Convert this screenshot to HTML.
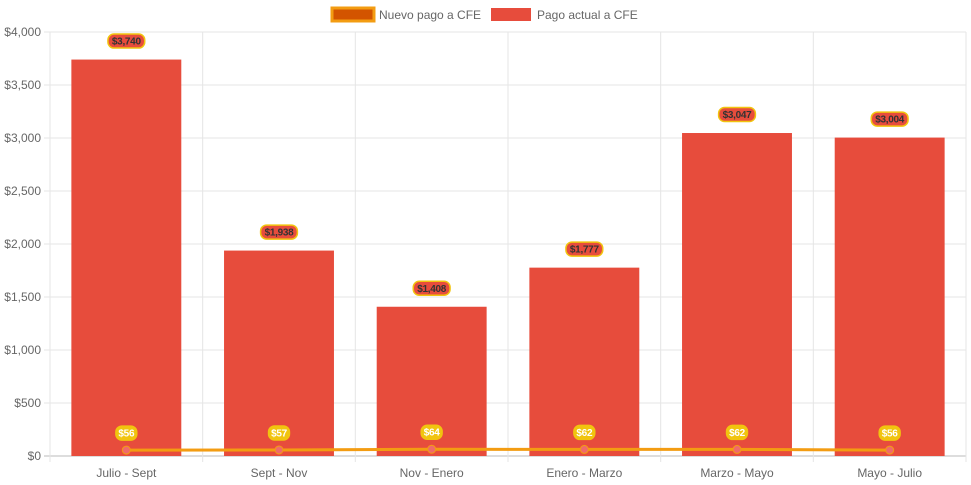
<!DOCTYPE html>
<html><head><meta charset="utf-8"><style>
body{margin:0;background:#fff;}
svg{display:block;font-family:"Liberation Sans",Arial,sans-serif;}
</style></head><body>
<svg id="chart" width="971" height="485">
<g>
<g>
<rect x="332" y="8" width="42" height="13" fill="#d35400" stroke="#f39c12" stroke-width="3"/>
<text x="379" y="19" font-size="12" fill="#666">Nuevo pago a CFE</text></g>
<g>
<rect x="491" y="8" width="40" height="13" fill="#e74c3c"/>
<text x="537" y="19" font-size="12" fill="#666">Pago actual a CFE</text></g>
</g>
<g id="grid"></g><g id="bars"></g><g id="line"></g><g id="labels"></g>
</svg>
<script>
const categories=["Julio - Sept","Sept - Nov","Nov - Enero","Enero - Marzo","Marzo - Mayo","Mayo - Julio"];
const actual=[3740,1938,1408,1777,3047,3004];
const nuevo=[56,57,64,62,62,56];
const ticks=[0,500,1000,1500,2000,2500,3000,3500,4000];
const NS="http://www.w3.org/2000/svg";
const X0=50,X1=966,Y0=456,Y1=32,MAX=4000;
const bw=(X1-X0)/categories.length;
const y=v=>Y0-(v/MAX)*(Y0-Y1);
const xc=i=>X0+bw*(i+0.5);
function mk(tag,attrs,parent){const e=document.createElementNS(NS,tag);for(const k in attrs)e.setAttribute(k,attrs[k]);parent.appendChild(e);return e;}
const fmt=v=>"$"+v.toLocaleString("en-US");
const grid=document.getElementById("grid");
ticks.forEach(t=>{
 const l=mk("line",{x1:X0-6,x2:X1,y1:y(t),y2:y(t),stroke:t===0?"#bbb":"#e5e5e5","stroke-width":1},grid);
 
 
 const tx=mk("text",{x:X0-9,y:y(t)+4,"text-anchor":"end","font-size":12,fill:"#666"},grid);
 tx.textContent=fmt(t);
 
 
});
for(let i=0;i<=categories.length;i++){
 const gx=X0+bw*i;
 const l=mk("line",{x1:gx,x2:gx,y1:Y1,y2:Y0+6,stroke:"#e5e5e5","stroke-width":1},grid);
 
 
}
categories.forEach((c,i)=>{
 const t=mk("text",{x:xc(i),y:Y0+21,"text-anchor":"middle","font-size":12,fill:"#666"},grid);
 t.textContent=c;
 
 
});
const bars=document.getElementById("bars"),labels=document.getElementById("labels");
function label(cx,cy,txt,fill,stroke,color){
 const w=txt.length*5.3+5;
 const r=mk("rect",{x:cx-w/2,y:cy-7,width:w,height:14,rx:6,fill:fill,stroke:stroke,"stroke-width":1.5},labels);
 
 
 const t=mk("text",{x:cx,y:cy+3.5,"text-anchor":"middle","font-size":10,"font-weight":"bold",fill:color,"letter-spacing":"-0.3"},labels);
 t.textContent=txt;
 
 
}
actual.forEach((v,i)=>{
 const w=bw*0.72;
 const b=mk("rect",{x:xc(i)-w/2,y:y(v),width:w,height:Y0-y(v),fill:"#e74c3c"},bars);
 
 
 label(xc(i),y(v)-18.5,fmt(v),"#e74c3c","#f1c40f","#333");
});
const line=document.getElementById("line");
const pl=mk("polyline",{points:nuevo.map((v,i)=>xc(i)+","+y(v)).join(" "),fill:"none",stroke:"#f39c12","stroke-width":3},line);


nuevo.forEach((v,i)=>{
 const p=mk("circle",{cx:xc(i),cy:y(v),r:4,fill:"#f06a6a",stroke:"#f39c12","stroke-width":1},line);
 
 
 label(xc(i),y(v)-17,fmt(v),"#f1c40f","#f1c40f","#fff");
});
</script>
</body></html>
